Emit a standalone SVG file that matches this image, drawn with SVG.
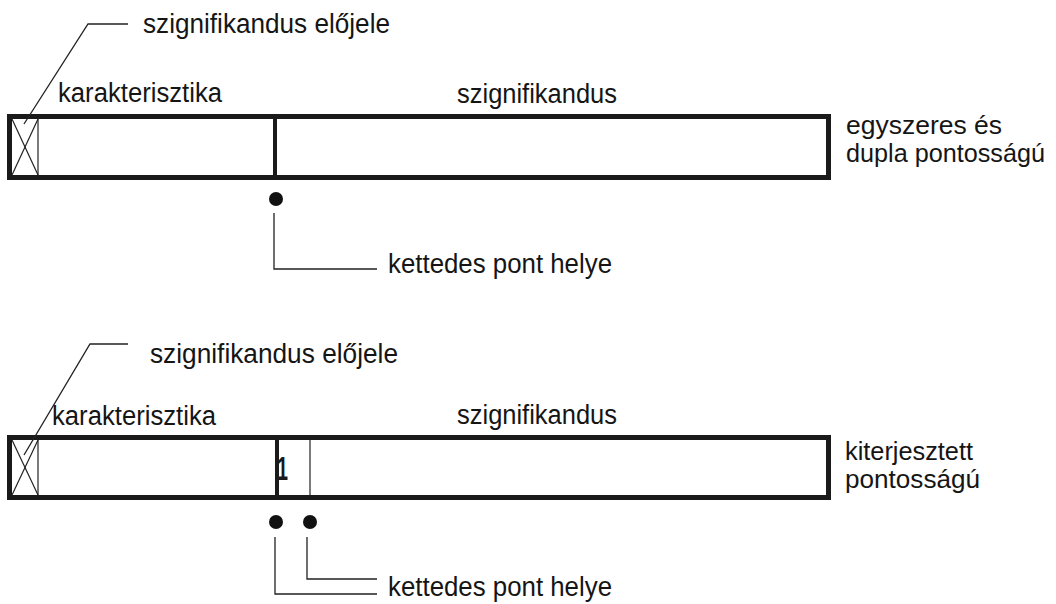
<svg xmlns="http://www.w3.org/2000/svg" width="1056" height="604" viewBox="0 0 1056 604">
<style>
  .t { font-family: "Liberation Sans", Arial, sans-serif; font-size: 27px; fill: #151515; }
  .r { font-size: 25px; }
  .box { fill: #fff; stroke: #1a1a1a; stroke-width: 5; }
  .div { stroke: #1a1a1a; stroke-width: 4; }
  .thin { stroke: #222; stroke-width: 1.2; fill: none; }
  .lead { stroke: #222; stroke-width: 1.3; fill: none; }
  .dot { fill: #111; }
</style>
<rect width="1056" height="604" fill="#fff"/>

<!-- Top format: single and double precision -->
<g id="format-single-double">
  <rect class="box" x="9.5" y="116.5" width="819" height="61"/>
  <line class="thin" x1="38" y1="119" x2="38" y2="175"/>
  <line class="thin" x1="12" y1="119" x2="38" y2="175"/>
  <line class="thin" x1="38" y1="119" x2="12" y2="175"/>
  <line class="div" x1="275" y1="118" x2="275" y2="176"/>
  <text class="t" x="58" y="102" textLength="164" lengthAdjust="spacingAndGlyphs">karakterisztika</text>
  <text class="t" x="457" y="103" textLength="160" lengthAdjust="spacingAndGlyphs">szignifikandus</text>
  <text class="t r" x="846" y="134" textLength="156" lengthAdjust="spacingAndGlyphs">egyszeres és</text>
  <text class="t r" x="846" y="162" textLength="199" lengthAdjust="spacingAndGlyphs">dupla pontosságú</text>
</g>
<g id="sign-label-top">
  <text class="t" x="143" y="33" textLength="247" lengthAdjust="spacingAndGlyphs">szignifikandus  előjele</text>
</g>
<g id="point-top">
  <circle class="dot" cx="276" cy="199" r="7"/>
  <text class="t" x="388" y="273" textLength="224" lengthAdjust="spacingAndGlyphs">kettedes pont helye</text>
</g>

<!-- Bottom format: extended precision -->
<g id="format-extended">
  <rect class="box" x="9.5" y="437.5" width="819" height="60"/>
  <line class="thin" x1="38" y1="440" x2="38" y2="495"/>
  <line class="thin" x1="12" y1="440" x2="38" y2="495"/>
  <line class="thin" x1="38" y1="440" x2="12" y2="495"/>
  <line class="div" x1="277" y1="439" x2="277" y2="496"/>
  <line class="thin" x1="310" y1="440" x2="310" y2="495"/>
  <text x="277" y="480" font-family="Liberation Sans, Arial, sans-serif" font-size="34" font-weight="bold" fill="#1a1a1a" textLength="11" lengthAdjust="spacingAndGlyphs">1</text>
  <text class="t" x="52" y="425" textLength="164" lengthAdjust="spacingAndGlyphs">karakterisztika</text>
  <text class="t" x="457" y="424" textLength="160" lengthAdjust="spacingAndGlyphs">szignifikandus</text>
  <text class="t r" x="845" y="460" textLength="128" lengthAdjust="spacingAndGlyphs">kiterjesztett</text>
  <text class="t r" x="845" y="488" textLength="135" lengthAdjust="spacingAndGlyphs">pontosságú</text>
</g>
<g id="sign-label-bottom">
  <text class="t" x="150" y="363" textLength="248" lengthAdjust="spacingAndGlyphs">szignifikandus  előjele</text>
</g>
<g id="point-bottom">
  <circle class="dot" cx="276" cy="522" r="7"/>
  <circle class="dot" cx="310" cy="522" r="7"/>
  <text class="t" x="388" y="596" textLength="224" lengthAdjust="spacingAndGlyphs">kettedes pont helye</text>
</g>

<!-- Connectors (leader lines) -->
<g id="connectors">
  <polyline class="lead" points="24,124 88,24 128,24"/>
  <polyline class="lead" points="24,455 90,344 128,344"/>
  <polyline class="lead" points="274,213 274,269 377,269"/>
  <polyline class="lead" points="275,537 275,594 377,594"/>
  <polyline class="lead" points="307,537 307,579 377,579"/>
</g>
</svg>
